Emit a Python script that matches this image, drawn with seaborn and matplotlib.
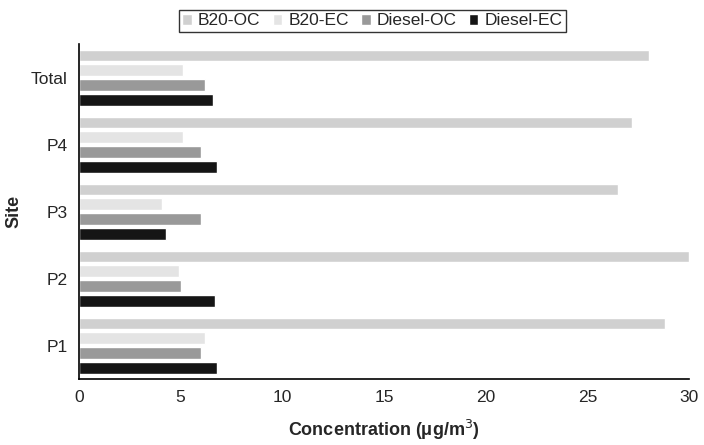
import matplotlib
matplotlib.use('Agg')
import matplotlib.pyplot as plt
import seaborn as sns
import pandas as pd

# --- DATOS ---
sites = ['Total', 'P4', 'P3', 'P2', 'P1']
series = ['B20-OC', 'B20-EC', 'Diesel-OC', 'Diesel-EC']
b20_oc = [28.0, 27.2, 26.5, 30.0, 28.8]
b20_ec = [5.1, 5.1, 4.1, 4.9, 6.2]
diesel_oc = [6.2, 6.0, 6.0, 5.0, 6.0]
diesel_ec = [6.6, 6.8, 4.3, 6.7, 6.8]
colores = ['#d0d0d0', '#e4e4e4', '#999999', '#151515']

rows = []
for nombre, vals in zip(series, [b20_oc, b20_ec, diesel_oc, diesel_ec]):
    for s, v in zip(sites, vals):
        rows.append({'site': s, 'serie': nombre, 'valor': v})
df = pd.DataFrame(rows)

sns.set_style('white')
plt.rcParams['font.family'] = ['Liberation Sans', 'DejaVu Sans']

fig = plt.figure(figsize=(7.04, 4.45), dpi=100)
ax = fig.add_axes([0.112, 0.148, 0.867, 0.753])
sns.barplot(data=df, y='site', x='valor', hue='serie', order=sites,
            hue_order=series, palette=colores, orient='h', width=0.88,
            gap=0.2, ax=ax, legend=True)

ax.set_xlim(0, 30)
ax.set_ylim(4.5, -0.5)
ax.set_xticks([0, 5, 10, 15, 20, 25, 30])
ax.tick_params(axis='both', length=0, labelsize=12.5, pad=8)
ax.set_xlabel('Concentration (μg/m$^3$)', fontsize=13, fontweight='bold', labelpad=9)
ax.set_ylabel('Site', fontsize=13, fontweight='bold', labelpad=6)
sns.despine(ax=ax)
for sp in ['left', 'bottom']:
    ax.spines[sp].set_color('black')
    ax.spines[sp].set_linewidth(1.2)

ax.get_legend().remove()
handles, labels = ax.get_legend_handles_labels()
fig.legend(handles, labels, loc='center', bbox_to_anchor=(0.529, 0.953),
           ncol=4, frameon=True, fancybox=False, edgecolor='black',
           fontsize=12.5, handlelength=0.55, handleheight=0.55, handletextpad=0.35,
           columnspacing=0.7, borderpad=0.2, borderaxespad=0)

plt.savefig('out.png', dpi=100)
plt.close()
